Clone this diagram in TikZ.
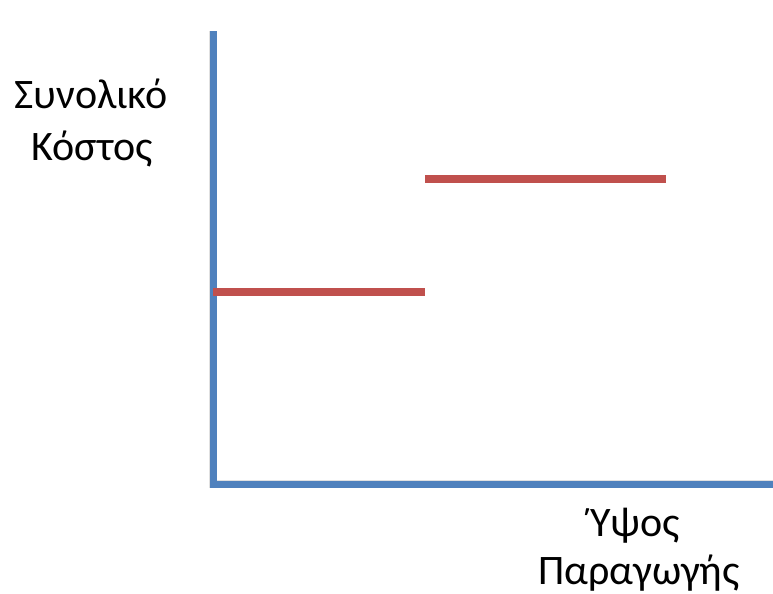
\documentclass[tikz,border=0pt]{standalone}
\usepackage{fontspec}
\setmainfont{Carlito}
\usetikzlibrary{positioning}
\definecolor{axisblue}{HTML}{4F81BD}
\definecolor{costred}{HTML}{C0504D}

\begin{document}
\begin{tikzpicture}[x=0.75pt,y=-0.75pt,
  axis/.style={axisblue, line width=5.25pt},
  cost/.style={costred, line width=6pt},
  shade/.style={black!12, line width=6pt, shift={(2,3)}},
  lbl/.style={font=\fontsize{31.5}{38}\selectfont, inner sep=0pt, anchor=base}]
\useasboundingbox (0,0) rectangle (773,593);

% Axes
\coordinate (top) at (213,31);
\coordinate (origin) at (213,484);
\coordinate (right) at (773,484);
\draw[shade] (top) -- (origin) -- (right);
\draw[axis] (top) -- (origin) -- (right);

% Two cost levels
\foreach \i/\xa/\xb/\y in {1/213/425/292, 2/425/666/179} {
    \coordinate (c\i a) at (\xa,\y);
    \coordinate (c\i b) at (\xb,\y);
    \draw[shade] (c\i a) -- (c\i b);
    \draw[cost] (c\i a) -- (c\i b);
}

% Axis labels
\node[lbl] (cost1) at (91,108) {Συνολικό};
\node[lbl] (cost2) at (92,160) {Κόστος};
\node[lbl] (prod1) at (635,536) {Ύψος};
\node[lbl] (prod2) at (639,584) {Παραγωγής};

\end{tikzpicture}
\end{document}
